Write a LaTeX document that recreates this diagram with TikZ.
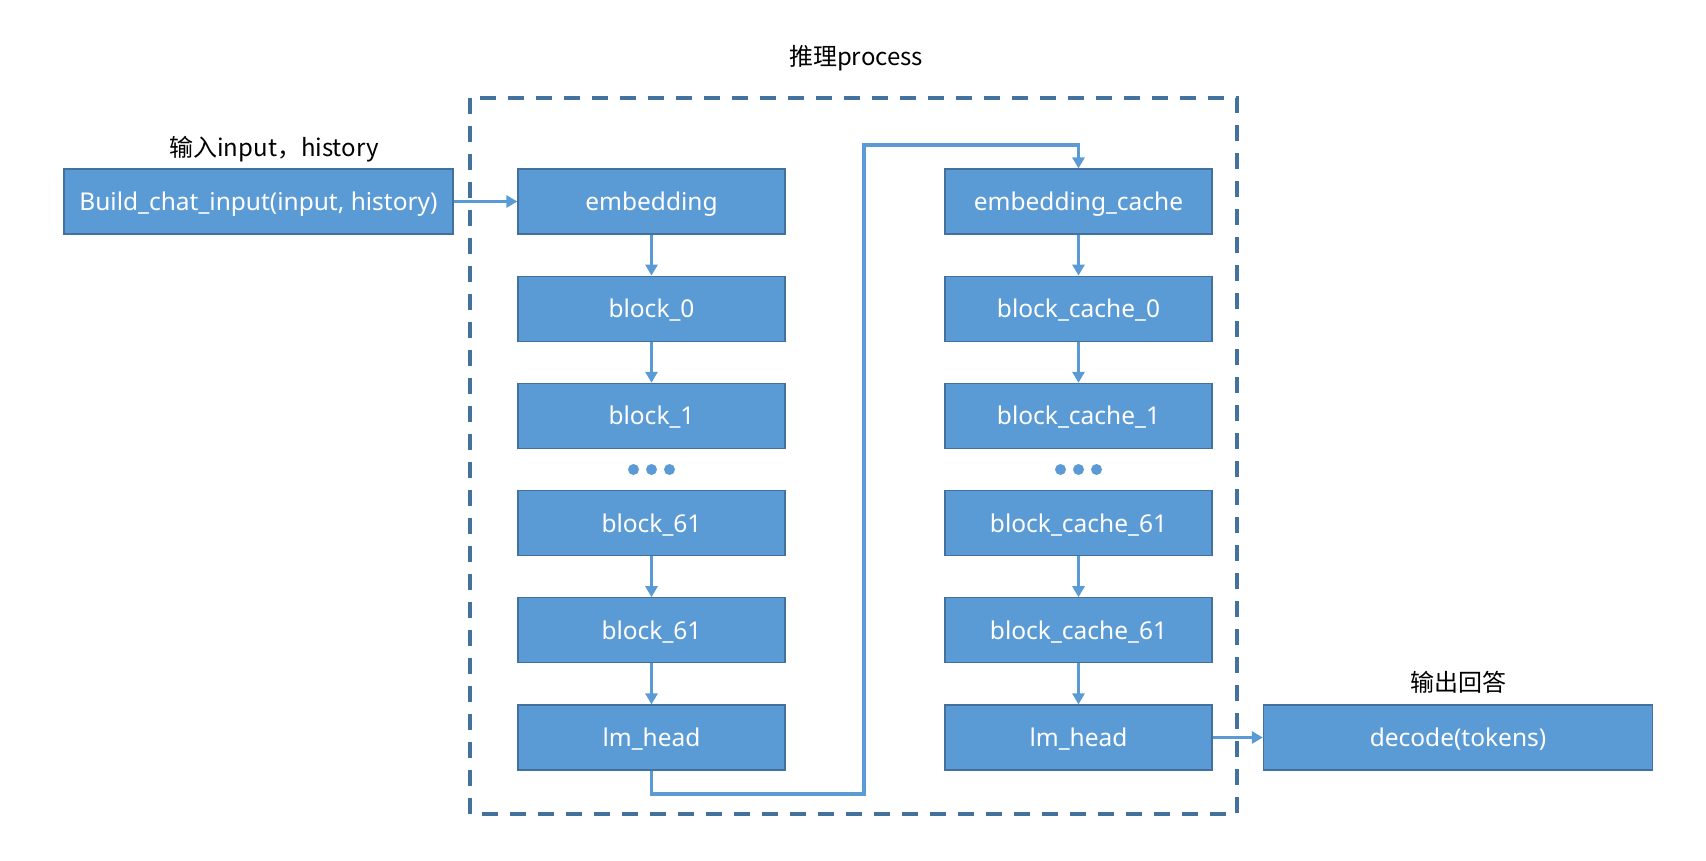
\documentclass[tikz,border=0pt]{standalone}
\usepackage{fontspec}
\setmainfont{Noto Sans}
\newfontfamily\cjk{Noto Sans CJK SC}
\usetikzlibrary{arrows.meta}
\definecolor{boxfill}{HTML}{5B9BD5}
\definecolor{boxline}{HTML}{41719C}
\definecolor{dashcol}{HTML}{44729E}
\tikzset{
  blk/.style={draw=boxline, line width=1.2pt, fill=boxfill, text=white,
    minimum width=267pt, minimum height=65pt, inner sep=0pt,
    text height=19pt, text depth=1pt,
    font=\fontsize{24.5}{29}\selectfont},
  widebox/.style={blk, minimum width=389pt},
  conn/.style={draw=boxfill, line width=3.5pt,
    -{Triangle[length=11pt,width=12pt]}},
  lbl/.style={text=black, font=\cjk\fontsize{24}{28}\selectfont, inner sep=0pt},
  dotc/.style={fill=boxfill, draw=none},
}
\begin{document}
\begin{tikzpicture}[x=1pt,y=-1pt]
\useasboundingbox (0,0) rectangle (1706,860);
% dashed frame
\draw[dashcol, line width=3.5pt, dash pattern=on 16pt off 12pt] (470,98) rectangle (1237,814);
\node[lbl] (title) at (856,58) {推理process};
% input
\node[widebox] (build) at (258.5,201.5) {Build\_chat\_input(input, history)};
\node[lbl] (inlbl) at (274,149) {输入input，history};
% left column
\node[blk] (emb) at (651.5,201.5) {embedding};
\node[blk] (b0) at (651.5,308.7) {block\_0};
\node[blk] (b1) at (651.5,415.9) {block\_1};
\node[blk] (b61a) at (651.5,523.1) {block\_61};
\node[blk] (b61b) at (651.5,630.3) {block\_61};
\node[blk] (lm0) at (651.5,737.5) {lm\_head};
% right column
\node[blk] (embc) at (1078.5,201.5) {embedding\_cache};
\node[blk] (c0) at (1078.5,308.7) {block\_cache\_0};
\node[blk] (c1) at (1078.5,415.9) {block\_cache\_1};
\node[blk] (c61a) at (1078.5,523.1) {block\_cache\_61};
\node[blk] (c61b) at (1078.5,630.3) {block\_cache\_61};
\node[blk] (lm1) at (1078.5,737.5) {lm\_head};
% output
\node[widebox] (dec) at (1458,737.5) {decode(tokens)};
\node[lbl] (outlbl) at (1458,682) {输出回答};
% dots
\foreach \dx in {-18,0,18} {
  \fill[dotc] (651.5+\dx,469.5) circle (5.5pt);
  \fill[dotc] (1078.5+\dx,469.5) circle (5.5pt);
}
% connectors
\draw[conn] (build.east) -- (emb.west);
\draw[conn] (emb.south) -- (b0.north);
\draw[conn] (b0.south) -- (b1.north);
\draw[conn] (b61a.south) -- (b61b.north);
\draw[conn] (b61b.south) -- (lm0.north);
\coordinate (lp1) at (864,794);
\coordinate (lp2) at (864,145);
\draw[conn, line join=miter] (lm0.south) |- (lp1) -- (lp2) -| (embc.north);
\draw[conn] (embc.south) -- (c0.north);
\draw[conn] (c0.south) -- (c1.north);
\draw[conn] (c61a.south) -- (c61b.north);
\draw[conn] (c61b.south) -- (lm1.north);
\draw[conn] (lm1.east) -- (dec.west);
\end{tikzpicture}
\end{document}
